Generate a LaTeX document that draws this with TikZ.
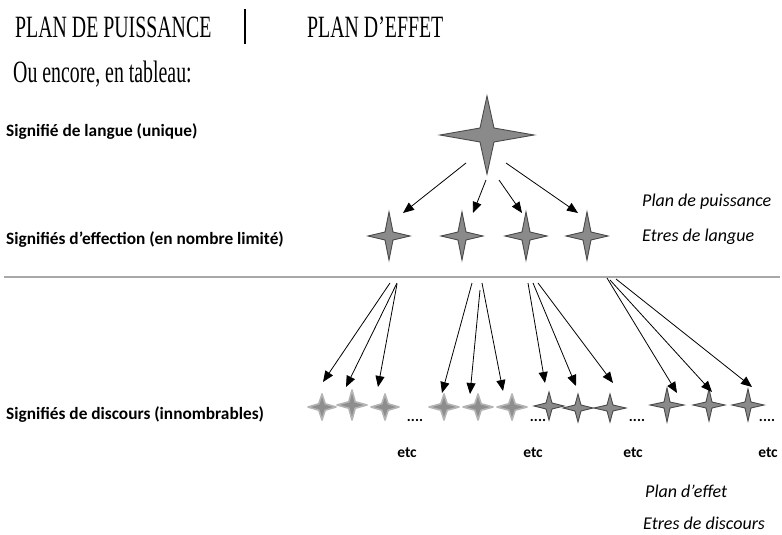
\documentclass[tikz,border=0pt]{standalone}
\usepackage{fontspec}
\setmainfont{Liberation Serif}
\newfontfamily\calib{Carlito}
\usetikzlibrary{arrows.meta}

\definecolor{starfill}{HTML}{8A8A8A}
\definecolor{staredge}{HTML}{4A4A4A}
\definecolor{softfill}{HTML}{8E8E8E}
\definecolor{softedge}{HTML}{B4B4B4}
\definecolor{rulegray}{HTML}{A8A8A8}

% four-pointed star: centre, half width, half height, waist, style
\newcommand\starshape[5]{%
  \path[#5, shift={(#1)}] (#2,0) -- (#4,#4) -- (0,#3) -- (-#4,#4) -- (-#2,0)
    -- (-#4,-#4) -- (0,-#3) -- (#4,-#4) -- cycle;}

\begin{document}
\begin{tikzpicture}[x=1pt, y=-1pt,
  headtext/.style={inner sep=0pt, anchor=base west, font=\fontsize{31}{31}\selectfont},
  rowlabel/.style={inner sep=0pt, anchor=west, font=\calib\bfseries\fontsize{17.3}{18}\selectfont},
  sidenote/.style={inner sep=0pt, anchor=west, font=\calib\itshape\fontsize{18}{19}\selectfont},
  etclabel/.style={inner sep=0pt, font=\calib\bfseries\fontsize{15.5}{16}\selectfont},
  dotslabel/.style={inner sep=0pt, font=\calib\bfseries\fontsize{15}{16}\selectfont},
  sharpstar/.style={fill=starfill, draw=staredge, line width=0.9pt, line join=miter},
  softstar/.style={fill=softfill, draw=softedge, line width=1.6pt, line join=round},
  arr/.style={draw=black, line width=0.8pt, -{Triangle[length=11pt,width=9pt]}}]

\useasboundingbox (0,0) rectangle (782,535);

% ---- heading ----
\node[headtext] (hpuis) at (15,38) {\scalebox{0.64}[1]{PLAN DE PUISSANCE}};
\coordinate (bartop) at (245,9);
\coordinate (barbot) at (245,44);
\draw[line width=1.6pt] (bartop) -- (barbot);
\node[headtext] (heffet) at (307,38) {\scalebox{0.64}[1]{PLAN D’EFFET}};
\node[headtext] (htab) at (13,83) {\scalebox{0.64}[1]{Ou encore, en tableau:}};

% ---- row labels ----
\node[rowlabel] (lunique) at (6,132) {Signifié de langue (unique)};
\node[rowlabel] (leffect) at (6,240) {Signifiés d’effection (en nombre limité)};
\node[rowlabel] (ldisc)   at (6,415) {Signifiés de discours (innombrables)};

\node[sidenote] (npuis)  at (642,202) {Plan de puissance};
\node[sidenote] (nlang)  at (642,237) {Etres de langue};
\node[sidenote] (neffet) at (645,491) {Plan d’effet};
\node[sidenote] (ndisc)  at (643,523) {Etres de discours};

% ---- separator ----
\coordinate (ruleL) at (4,277);
\coordinate (ruleR) at (780,277);
\draw[rulegray, line width=1.1pt] (ruleL) -- (ruleR);

% ---- stars: langue ----
\coordinate (big) at (487,135);
\starshape{big}{47}{39}{7}{sharpstar}
\foreach \n/\x in {e1/389, e2/462, e3/526, e4/587}{
  \coordinate (\n) at (\x,236);
  \starshape{\n}{21}{24}{4}{sharpstar}
}

% ---- stars: discours ----
\foreach \n/\x/\y/\w/\h in {a1/322/407/14/13, a2/352/405/15/15, a3/385/407/14/13,
                            b1/444/407/15/13, b2/478/407/15/13, b3/512/407/15/13}{
  \coordinate (\n) at (\x,\y);
  \starshape{\n}{\w}{\h}{3.2}{softstar}
}
\foreach \n/\x/\y/\w/\h in {c1/549/406/15/14, c2/578/408/15/14, c3/610/408/16/14,
                            d1/667/405/17/17, d2/709/405/16/16, d3/748/405/16/16}{
  \coordinate (\n) at (\x,\y);
  \starshape{\n}{\w}{\h}{3}{sharpstar}
}

\node[dotslabel] (dA) at (415,420) {....};
\node[dotslabel] (dB) at (538,420) {....};
\node[dotslabel] (dC) at (637,420) {....};
\node[dotslabel] (dD) at (767,420) {....};

\node[etclabel] (etc1) at (407,453) {etc};
\node[etclabel] (etc2) at (533,453) {etc};
\node[etclabel] (etc3) at (633,453) {etc};
\node[etclabel] (etc4) at (768,453) {etc};

% ---- arrows: langue -> effection ----
\foreach \n/\sx/\sy/\tx/\ty in {1/466/163/403/213, 2/486/180/473/213,
                                3/499/180/522/213, 4/506/163/578/213}{
  \coordinate (us\n) at (\sx,\sy);
  \coordinate (ut\n) at (\tx,\ty);
  \draw[arr] (us\n) -- (ut\n);
}

% ---- arrows: effection -> discours ----
\foreach \n/\sx/\sy/\tx/\ty in {
    1/390/283/323/382,  2/397/283/346/387,  3/397/284/378/387,
    4/472/283/442/393,  5/480/290/470/394,  6/482/283/503/391,
    7/528/283/545/383,  8/533/283/576/386,  9/538/283/613/383,
    10/607/278/677/393, 11/610/280/712/392, 12/616/279/752/387}{
  \coordinate (ls\n) at (\sx,\sy);
  \coordinate (lt\n) at (\tx,\ty);
  \draw[arr] (ls\n) -- (lt\n);
}
\end{tikzpicture}
\end{document}
